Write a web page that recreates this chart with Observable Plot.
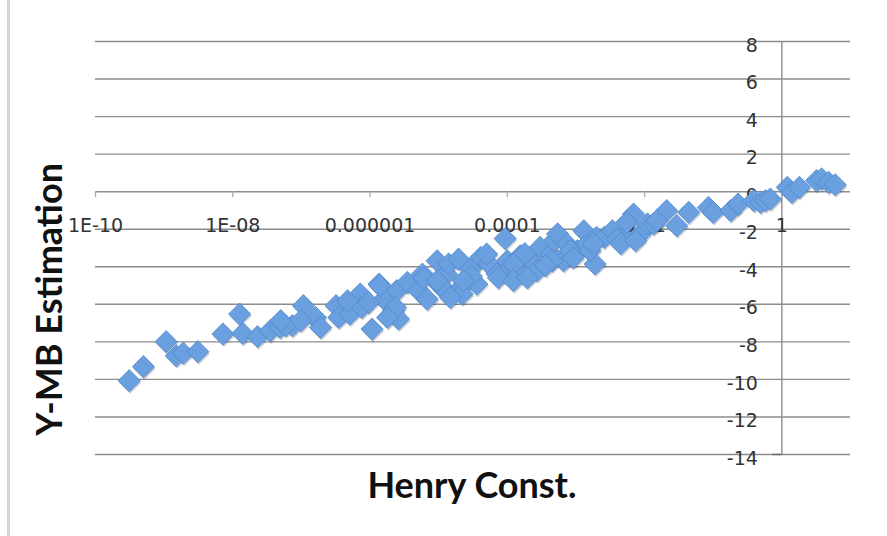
<!DOCTYPE html>
<html>
<head>
<meta charset="utf-8">
<script src="https://cdn.jsdelivr.net/npm/d3@7"></script>
<script src="https://cdn.jsdelivr.net/npm/@observablehq/plot@0.6"></script>
<style>
  html, body { margin: 0; padding: 0; background: #fff; }
  #chart { width: 887px; height: 536px; }
</style>
</head>
<body>
<div id="chart"></div>
<script>
// Henry constant (x, log scale) and Y-MB estimation (y)
const henry = [
  3.1e-10, 5.0e-10, 1.07e-9, 1.5e-9, 1.9e-9, 3.1e-9, 7.2e-9, 1.26e-8, 1.4e-8, 2.3e-8,
  3.5e-8, 4.9e-8, 7.4e-8, 5.9e-8, 5.0e-8, 1.07e-7, 1.6e-7, 1.9e-7, 3.2e-7, 3.5e-7,
  5.1e-7, 7.2e-7, 7.6e-7, 1.07e-6, 1.35e-6, 1.6e-6, 2.2e-6, 2.6e-6, 2.45e-6, 3.5e-6,
  5.1e-6, 5.8e-6, 6.8e-6, 9.5e-6, 1.0e-5, 1.3e-5, 1.26e-5, 1.4e-5, 1.95e-5, 2.1e-5,
  2.9e-5, 3.6e-5, 4.1e-5, 5.4e-5, 7.1e-5, 9.3e-5, 1.0e-4, 1.38e-4, 1.55e-4, 2.2e-4,
  2.7e-4, 3.0e-4, 4.3e-4, 4.8e-4, 5.4e-4, 6.6e-4, 7.4e-4, 1.05e-3, 1.3e-3, 1.45e-3,
  1.9e-3, 2.0e-3, 2.6e-3, 3.4e-3, 5.0e-3, 6.9e-3, 8.7e-3, 1.1e-2, 2.1e-2, 2.95e-2,
  4.4e-2, 8.5e-2, 0.1, 0.18, 0.23, 0.39, 0.49, 0.58, 0.68, 1.2,
  1.4, 1.8, 3.2, 3.8, 4.8, 6.0, 1.4e-6, 2.35e-6, 1.07e-5, 2.2e-5,
  5.0e-5, 1.23e-4, 4.5e-4, 8.3e-4, 4.0e-3, 5.5e-3, 1.35e-2, 6.0e-6, 3.0e-5, 1.8e-4,
  9.5e-6, 1.48e-5, 2.3e-5, 7.4e-5, 1.23e-4, 1.95e-4, 3.6e-4, 9.1e-4, 1.6e-3, 1.8e-3,
  4.5e-3, 7.4e-3, 1.5e-2, 9.8e-8, 4.7e-7, 9.5e-7, 1.8e-6
];
const estimate = [
  -10.07, -9.32, -7.99, -8.74, -8.6, -8.52, -7.58, -6.52, -7.55, -7.72,
  -7.41, -7.23, -7.14, -7.14, -6.87, -6.07, -6.70, -7.23, -6.07, -6.70,
  -6.52, -5.45, -6.16, -7.32, -4.92, -5.72, -6.34, -6.78, -5.27, -4.83,
  -5.27, -4.39, -5.72, -3.68, -4.92, -4.39, -5.27, -3.85, -3.59, -5.10,
  -4.12, -4.92, -3.50, -3.85, -4.39, -2.50, -3.68, -4.21, -3.41, -3.68,
  -4.21, -2.97, -3.32, -2.61, -2.25, -3.68, -2.79, -3.14, -2.08, -2.79,
  -3.85, -2.43, -2.43, -2.08, -2.43, -1.19, -2.25, -1.72, -1.01, -1.81,
  -1.10, -0.84, -1.10, -1.01, -0.66, -0.48, -0.57, -0.48, -0.39, 0.23,
  -0.04, 0.23, 0.59, 0.68, 0.50, 0.37, -5.01, -6.16, -5.01, -5.45,
  -3.32, -3.85, -3.68, -3.14, -2.52, -1.63, -1.72, -4.6, -4.5, -3.3,
  -4.74, -5.63, -4.74, -4.58, -4.74, -4.58, -3.94, -3.52, -3.14, -2.77,
  -2.77, -2.61, -1.55, -6.87, -5.81, -5.90, -6.70
];
const xTickValues = [1e-10, 1e-8, 1e-6, 1e-4, 1e-2, 1];
const xTickLabels = ["1E-10", "1E-08", "0.000001", "0.0001", "0.01", "1"];
const yTickValues = [-14, -12, -10, -8, -6, -4, -2, 0, 2, 4, 6, 8];
const yTickLabels = ["-14", "-12", "-10", "-8", "-6", "-4", "-2", "0", "2", "4", "6", "8"];
const xTitle = "Henry Const.";
const yTitle = "Y-MB Estimation";

const points = henry.map((h, i) => ({h, e: estimate[i]}));
const xTicks = xTickValues.map((v, i) => ({v, label: xTickLabels[i]}));
const yTicks = yTickValues.map((v, i) => ({v, label: yTickLabels[i]}));

const chart = Plot.plot({
  width: 887,
  height: 536,
  marginLeft: 95,
  marginRight: 37,
  marginTop: 41,
  marginBottom: 82,
  style: {fontFamily: "DejaVu Sans, sans-serif", background: "#fff"},
  x: {type: "log", domain: [1e-10, 10], axis: null},
  y: {domain: [-14, 8], axis: null},
  marks: [
    Plot.ruleY(yTicks, {y: "v", stroke: "#8c8c8c", strokeWidth: 1.4}),
    Plot.ruleX([1], {x: d => d, y1: -14, y2: 8, stroke: "#8c8c8c", strokeWidth: 1.4}),
    Plot.ruleX(xTicks, {x: "v", y1: 0, y2: 0, insetBottom: -6, stroke: "#b0b0b0", strokeWidth: 1.4}),
    Plot.ruleY([-14], {y: d => d, x1: 1, x2: 1, insetLeft: -9, stroke: "#6a6a6a", strokeWidth: 1.4}),
    Plot.text(xTicks, {x: "v", y: 0, dy: 34, text: "label", fontSize: 19, fill: "#333", textAnchor: "middle"}),
    Plot.text(yTicks, {x: () => 1, y: "v", dx: -24, dy: 4, text: "label", fontSize: 19, fill: "#333", textAnchor: "end"}),
    Plot.dot(points, {x: "h", y: "e", symbol: "diamond2", r: 10, fill: "#2a3c55", fillOpacity: 0.25, dx: 1, dy: 2}),
    Plot.dot(points, {x: "h", y: "e", symbol: "diamond2", r: 10, fill: "#6aa0e0", stroke: "#4f86cc", strokeWidth: 0.8})
  ]
});

const svg = d3.select(chart);
svg.append("rect").attr("x", 7).attr("y", 0).attr("width", 3).attr("height", 536).attr("fill", "#d4d4d4");
svg.append("text")
  .attr("x", 472).attr("y", 498)
  .attr("text-anchor", "middle")
  .attr("font-family", "Lato, Liberation Sans, sans-serif")
  .attr("font-weight", "bold")
  .attr("font-size", 36)
  .attr("fill", "#111")
  .text(xTitle);
svg.append("text")
  .attr("transform", "translate(62,163) rotate(-90)")
  .attr("text-anchor", "end")
  .attr("font-family", "Lato, Liberation Sans, sans-serif")
  .attr("font-weight", "bold")
  .attr("font-size", 36)
  .attr("fill", "#111")
  .text(yTitle);

document.getElementById("chart").appendChild(chart);
</script>
</body>
</html>
